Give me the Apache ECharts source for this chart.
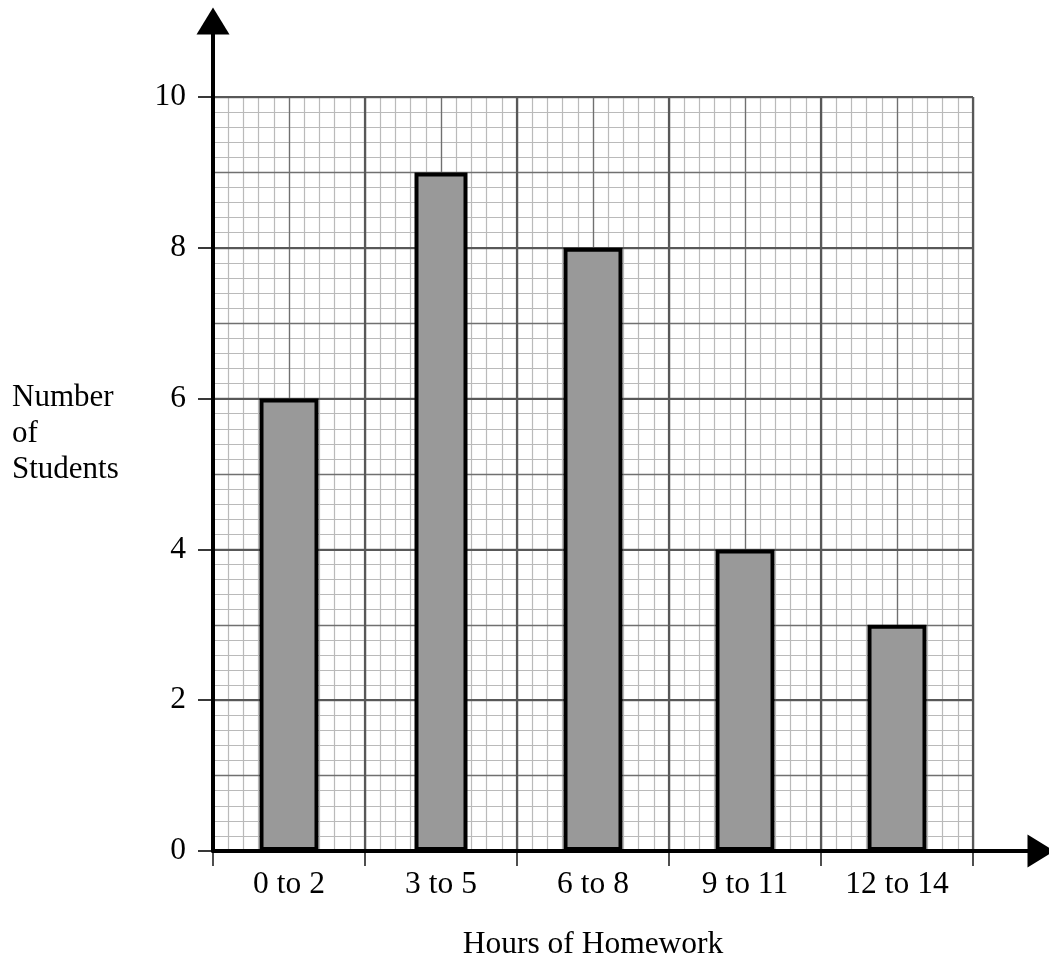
<!DOCTYPE html>
<html>
<head>
<meta charset="utf-8">
<script src="https://cdn.jsdelivr.net/npm/echarts@6/dist/echarts.min.js"></script>
<style>
  html, body { margin: 0; padding: 0; background: #fff; }
  #chart { width: 1049px; height: 961px; }
</style>
</head>
<body>
<div id="chart"></div>
<script>
// homework bar chart on graph paper
const categories = ['0 to 2', '3 to 5', '6 to 8', '9 to 11', '12 to 14'];
const students = [6, 9, 8, 4, 3];
const yTicks = [0, 2, 4, 6, 8, 10];
const narrowBar = 1; // second bar is drawn a bit thinner in the original

const FONT = 'Liberation Serif';
const GRID_MINOR = '#bababa';
const GRID_MID = '#707070';
const GRID_MAJOR = '#585858';

const chart = echarts.init(document.getElementById('chart'));

const wideData = students.map((v, i) => (i === narrowBar ? '-' : v));
const narrowData = students.map((v, i) => (i === narrowBar ? v : '-'));

function paperAxis(extra) {
  return Object.assign({
    gridIndex: 0,
    show: true,
    offset: 0,
    axisLine: { show: false },
    axisTick: { show: false },
    axisLabel: { show: false },
    splitLine: { show: true }
  }, extra);
}

let option = {
  animation: false,
  title: {
    text: 'Number\nof\nStudents',
    left: 12,
    top: 380,
    padding: 0,
    textStyle: {
      fontFamily: FONT,
      fontSize: 31,
      fontWeight: 'normal',
      lineHeight: 36,
      color: '#000'
    }
  },
  grid: [
    { left: 213, right: 76, top: 97, bottom: 110, containLabel: false, outerBoundsMode: 'none' },
    { left: 213, right: 8, top: 21, bottom: 110, containLabel: false, outerBoundsMode: 'none' }
  ],
  xAxis: [
    // minor paper lines (10 per category)
    paperAxis({ type: 'value', position: 'bottom', min: 0, max: 50, interval: 1, z: 0,
      splitLine: { show: true, lineStyle: { color: GRID_MINOR, width: 1.2 } } }),
    // half category lines
    paperAxis({ type: 'value', position: 'bottom', min: 0, max: 10, interval: 1, z: 1,
      splitLine: { show: true, lineStyle: { color: GRID_MID, width: 1.3 } } }),
    // main category axis
    {
      type: 'category',
      gridIndex: 0,
      position: 'bottom',
      offset: 0,
      data: categories,
      z: 2,
      axisLine: { show: false },
      axisTick: { show: true, length: 15, lineStyle: { color: '#222', width: 1.6 } },
      axisLabel: { margin: 18, fontFamily: FONT, fontSize: 31.5, color: '#000' },
      splitLine: { show: true, interval: 0, lineStyle: { color: GRID_MAJOR, width: 2.2 } },
      name: 'Hours of Homework',
      nameLocation: 'middle',
      nameGap: 78,
      nameTextStyle: { fontFamily: FONT, fontSize: 31.5, color: '#000' }
    },
    // second category axis so the thin bar gets its own width
    {
      type: 'category',
      gridIndex: 0,
      position: 'bottom',
      offset: 0,
      data: categories,
      show: false
    },
    // axis line with arrow
    {
      type: 'value',
      gridIndex: 1,
      position: 'bottom',
      min: 0,
      max: 1,
      z: 5,
      axisLine: {
        show: true, onZero: false,
        symbol: ['none', 'triangle'],
        symbolSize: [33, 27],
        lineStyle: { color: '#000', width: 4 }
      },
      axisTick: { show: false },
      axisLabel: { show: false },
      splitLine: { show: false }
    }
  ],
  yAxis: [
    paperAxis({ type: 'value', position: 'left', min: 0, max: 50, interval: 1, z: 0,
      splitLine: { show: true, lineStyle: { color: GRID_MINOR, width: 1.2 } } }),
    paperAxis({ type: 'value', position: 'left', min: 0, max: 10, interval: 1, z: 1,
      splitLine: { show: true, lineStyle: { color: GRID_MID, width: 1.3 } } }),
    {
      type: 'value',
      gridIndex: 0,
      position: 'left',
      offset: 0,
      min: yTicks[0],
      max: yTicks[yTicks.length - 1],
      interval: yTicks[1] - yTicks[0],
      z: 2,
      axisLine: { show: false },
      axisTick: { show: true, length: 15, lineStyle: { color: '#222', width: 1.8 } },
      axisLabel: { margin: 27, fontFamily: FONT, fontSize: 31.5, color: '#000' },
      splitLine: { show: true, lineStyle: { color: GRID_MAJOR, width: 2.2 } }
    },
    {
      type: 'value',
      gridIndex: 1,
      position: 'left',
      min: 0,
      max: 1,
      z: 5,
      axisLine: {
        show: true, onZero: false,
        symbol: ['none', 'triangle'],
        symbolSize: [33, 27],
        lineStyle: { color: '#000', width: 4 }
      },
      axisTick: { show: false },
      axisLabel: { show: false },
      splitLine: { show: false }
    }
  ],
  series: [
    {
      type: 'bar',
      xAxisIndex: 2,
      yAxisIndex: 2,
      data: wideData,
      barWidth: 59,
      z: 3,
      itemStyle: { color: '#999999', borderColor: '#000', borderWidth: 4 }
    },
    {
      type: 'bar',
      xAxisIndex: 3,
      yAxisIndex: 2,
      data: narrowData,
      barWidth: 53,
      z: 3,
      itemStyle: { color: '#999999', borderColor: '#000', borderWidth: 4 }
    }
  ]
};

chart.setOption(option);
</script>
</body>
</html>
